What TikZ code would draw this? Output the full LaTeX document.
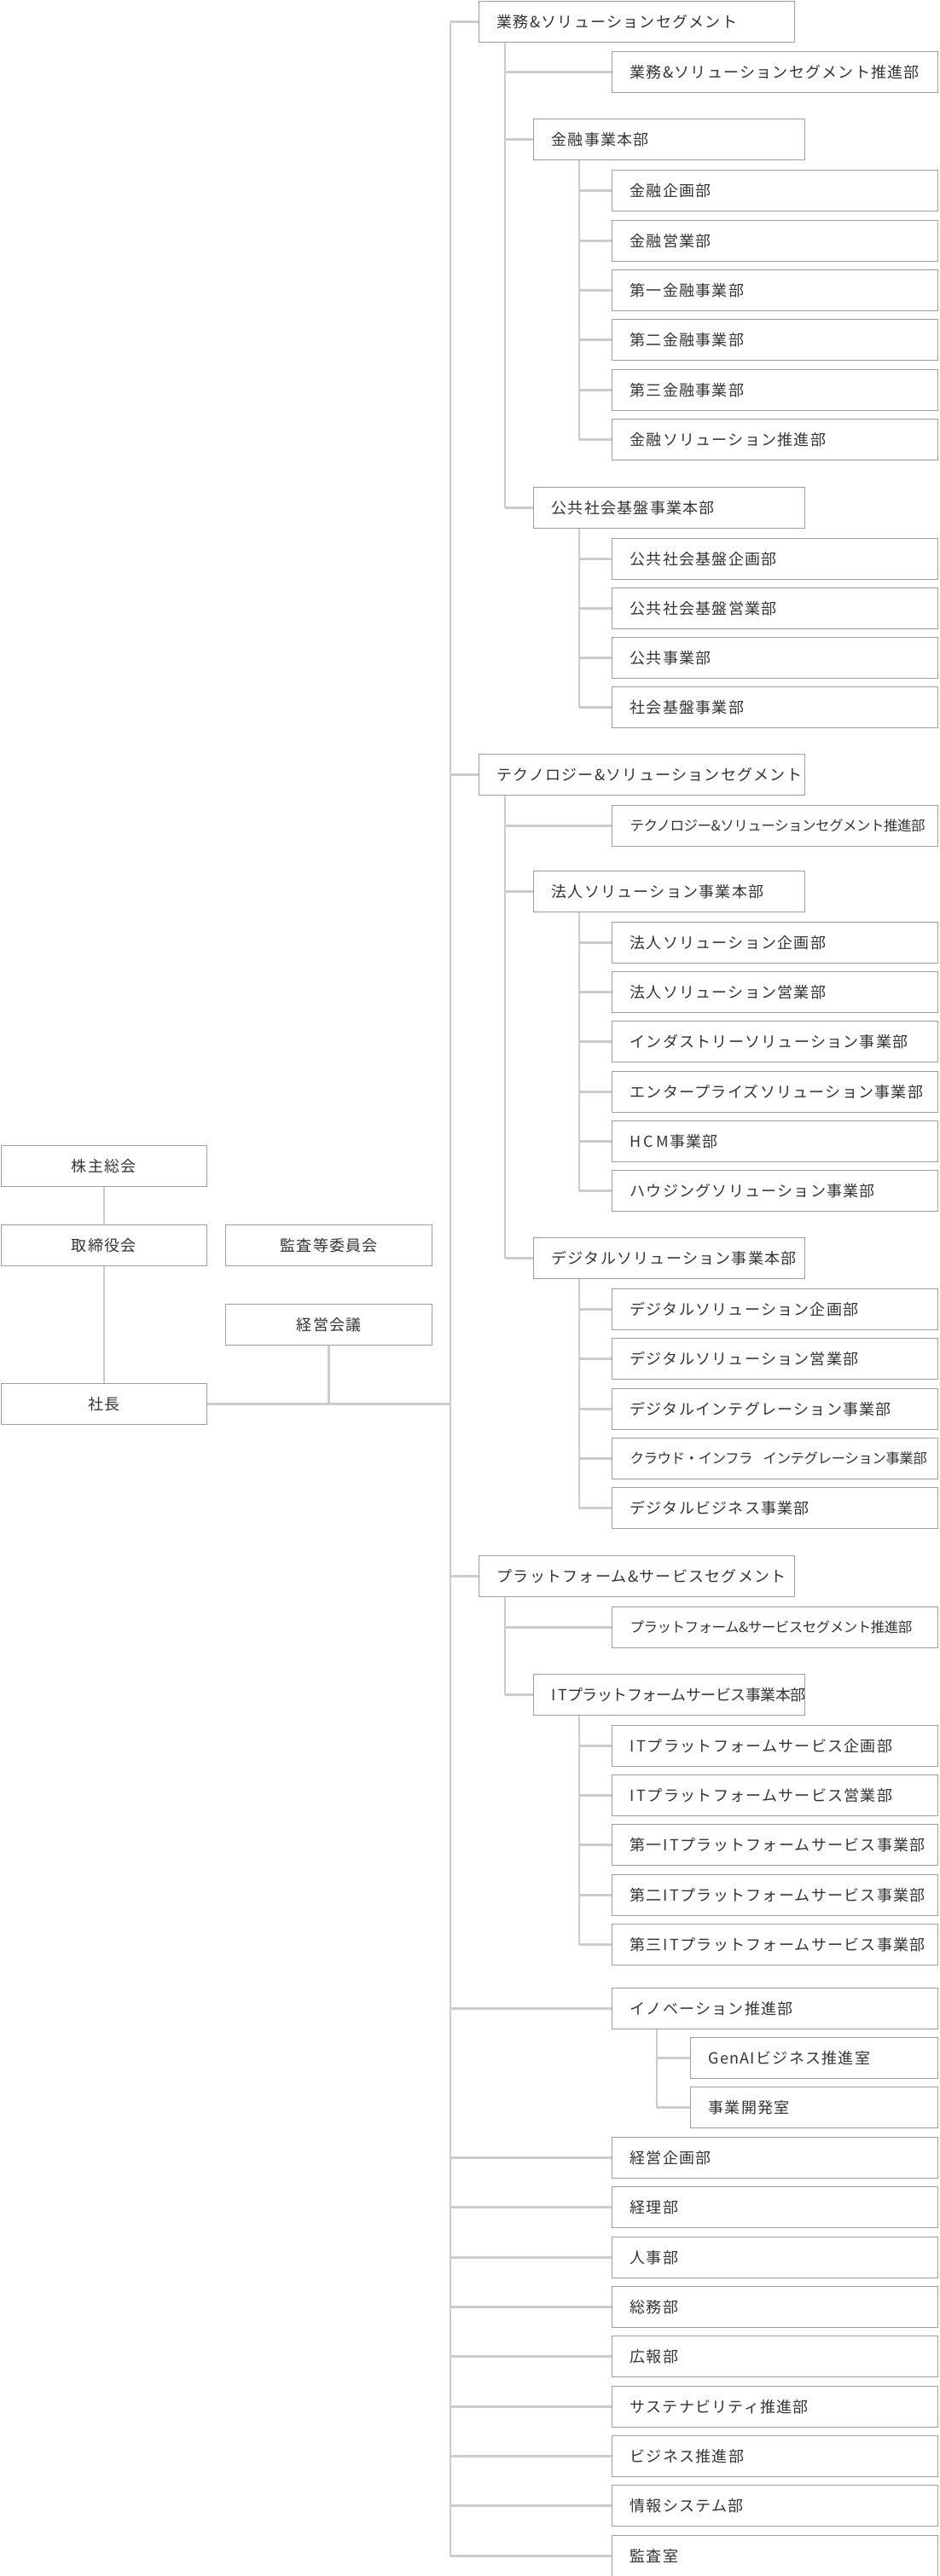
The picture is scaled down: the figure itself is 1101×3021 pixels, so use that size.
\documentclass[tikz,border=0pt]{standalone}
\usepackage{fontspec}
\setmainfont{Noto Sans CJK JP}[LetterSpace=7]
\newfontfamily\tightfont{Noto Sans CJK JP}[LetterSpace=-3]
\newcommand\IT{I\,T}
\newcommand\tgt[1]{\mbox{\tightfont\fontsize{16.5}{18}\selectfont #1}}
\definecolor{bordergray}{HTML}{9E9E9E}
\definecolor{linegray}{HTML}{CCCCCC}
\definecolor{txt}{HTML}{333333}
\begin{document}
\begin{tikzpicture}[x=1pt,y=1pt,
  bx/.style={draw=bordergray, line width=1.3pt, minimum height=48pt, inner xsep=21pt, inner ysep=0pt,
    align=left, anchor=north west, text=txt, font=\fontsize{18}{20}\selectfont},
  cbx/.style={bx, align=center},
  ln/.style={draw=linegray, line width=2.6pt}]
\useasboundingbox (0,0) rectangle (1101,-3021);
% left
\node[cbx, text width=199pt] (kabu) at (0.7,-1343) {株主総会};
\node[cbx, text width=199pt] (tori) at (0.7,-1436) {取締役会};
\node[cbx, text width=200pt] (kansa) at (264,-1436) {監査等委員会};
\node[cbx, text width=200pt] (keiei) at (264,-1529) {経営会議};
\node[cbx, text width=199pt] (sha) at (0.7,-1622) {社長};
\coordinate (tr) at (528,0);
\draw[ln] (kabu) -- (tori);
\draw[ln] (tori) -- (sha);
\draw[ln] (sha.east) -- (tr |- sha.east);
\draw[ln] (keiei.south) -- (keiei.south |- sha.east);
% segment 1
\node[bx, text width=328pt] (s1) at (561,-1) {業務\&ソリューションセグメント};
\node[bx, text width=340pt] (s1p) at (717,-60) {業務\&ソリューションセグメント推進部};
\node[bx, text width=276pt] (h1) at (625,-139) {金融事業本部};
\node[bx, text width=340pt] (h1a) at (717,-199) {金融企画部};
\node[bx, text width=340pt] (h1b) at (717,-258) {金融営業部};
\node[bx, text width=340pt] (h1c) at (717,-316) {第一金融事業部};
\node[bx, text width=340pt] (h1d) at (717,-374) {第二金融事業部};
\node[bx, text width=340pt] (h1e) at (717,-433) {第三金融事業部};
\node[bx, text width=340pt] (h1f) at (717,-491) {金融ソリューション推進部};
\node[bx, text width=276pt] (h2) at (625,-571) {公共社会基盤事業本部};
\node[bx, text width=340pt] (h2a) at (717,-631) {公共社会基盤企画部};
\node[bx, text width=340pt] (h2b) at (717,-689) {公共社会基盤営業部};
\node[bx, text width=340pt] (h2c) at (717,-747) {公共事業部};
\node[bx, text width=340pt] (h2d) at (717,-805) {社会基盤事業部};
% segment 2
\node[bx, text width=340pt] (s2) at (561,-884) {\mbox{テクノロジー\&ソリューションセグメント}};
\node[bx, text width=340pt] (s2p) at (717,-944) {\tgt{テクノロジー\&ソリューションセグメント推進部}};
\node[bx, text width=276pt] (h3) at (625,-1021) {法人ソリューション事業本部};
\node[bx, text width=340pt] (h3a) at (717,-1081) {法人ソリューション企画部};
\node[bx, text width=340pt] (h3b) at (717,-1139) {法人ソリューション営業部};
\node[bx, text width=340pt] (h3c) at (717,-1197) {インダストリーソリューション事業部};
\node[bx, text width=340pt] (h3d) at (717,-1256) {エンタープライズソリューション事業部};
\node[bx, text width=340pt] (h3e) at (717,-1314) {H\,C\,M事業部};
\node[bx, text width=340pt] (h3f) at (717,-1372) {ハウジングソリューション事業部};
\node[bx, text width=276pt] (h4) at (625,-1451) {デジタルソリューション事業本部};
\node[bx, text width=340pt] (h4a) at (717,-1511) {デジタルソリューション企画部};
\node[bx, text width=340pt] (h4b) at (717,-1569) {デジタルソリューション営業部};
\node[bx, text width=340pt] (h4c) at (717,-1628) {デジタルインテグレーション事業部};
\node[bx, text width=340pt] (h4d) at (717,-1686) {\tgt{クラウド・インフラ\ \ インテグレーション事業部}};
\node[bx, text width=340pt] (h4e) at (717,-1744) {デジタルビジネス事業部};
% segment 3
\node[bx, text width=328pt] (s3) at (561,-1824) {プラットフォーム\&サービスセグメント};
\node[bx, text width=340pt] (s3p) at (717,-1884) {\tgt{プラットフォーム\&サービスセグメント推進部}};
\node[bx, text width=276pt] (h5) at (625,-1963) {\mbox{\tightfont \IT プラットフォームサービス事業本部}};
\node[bx, text width=340pt] (h5a) at (717,-2023) {\IT プラットフォームサービス企画部};
\node[bx, text width=340pt] (h5b) at (717,-2081) {\IT プラットフォームサービス営業部};
\node[bx, text width=340pt] (h5c) at (717,-2139) {第一\IT プラットフォームサービス事業部};
\node[bx, text width=340pt] (h5d) at (717,-2198) {第二\IT プラットフォームサービス事業部};
\node[bx, text width=340pt] (h5e) at (717,-2256) {第三\IT プラットフォームサービス事業部};
% others
\node[bx, text width=340pt] (inv) at (717,-2331) {イノベーション推進部};
\node[bx, text width=248pt] (inva) at (809,-2389) {GenAIビジネス推進室};
\node[bx, text width=248pt] (invb) at (809,-2447) {事業開発室};
\node[bx, text width=340pt] (d1) at (717,-2506) {経営企画部};
\node[bx, text width=340pt] (d2) at (717,-2564) {経理部};
\node[bx, text width=340pt] (d3) at (717,-2623) {人事部};
\node[bx, text width=340pt] (d4) at (717,-2681) {総務部};
\node[bx, text width=340pt] (d5) at (717,-2739) {広報部};
\node[bx, text width=340pt] (d6) at (717,-2798) {サステナビリティ推進部};
\node[bx, text width=340pt] (d7) at (717,-2856) {ビジネス推進部};
\node[bx, text width=340pt] (d8) at (717,-2914) {情報システム部};
\node[bx, text width=340pt] (d9) at (717,-2973) {監査室};
% trunk
\draw[ln] (tr |- s1.west) -- (tr |- d9.west);
\foreach \n in {s1,s2,s3,inv,d1,d2,d3,d4,d5,d6,d7,d8,d9}
  \draw[ln] (tr |- \n.west) -- (\n.west);
% segment verticals
\coordinate (sv) at (592,0);
\coordinate (hv) at (679,0);
\coordinate (iv) at (770,0);
\draw[ln] (sv |- s1.south) -- (sv |- h2.west);
\draw[ln] (sv |- s2.south) -- (sv |- h4.west);
\draw[ln] (sv |- s3.south) -- (sv |- h5.west);
\foreach \n in {s1p,h1,h2,s2p,h3,h4,s3p,h5}
  \draw[ln] (sv |- \n.west) -- (\n.west);
\draw[ln] (hv |- h1.south) -- (hv |- h1f.west);
\draw[ln] (hv |- h2.south) -- (hv |- h2d.west);
\draw[ln] (hv |- h3.south) -- (hv |- h3f.west);
\draw[ln] (hv |- h4.south) -- (hv |- h4e.west);
\draw[ln] (hv |- h5.south) -- (hv |- h5e.west);
\foreach \n in {h1a,h1b,h1c,h1d,h1e,h1f,h2a,h2b,h2c,h2d,h3a,h3b,h3c,h3d,h3e,h3f,h4a,h4b,h4c,h4d,h4e,h5a,h5b,h5c,h5d,h5e}
  \draw[ln] (hv |- \n.west) -- (\n.west);
\draw[ln] (iv |- inv.south) -- (iv |- invb.west);
\draw[ln] (iv |- inva.west) -- (inva.west);
\draw[ln] (iv |- invb.west) -- (invb.west);
\end{tikzpicture}
\end{document}
